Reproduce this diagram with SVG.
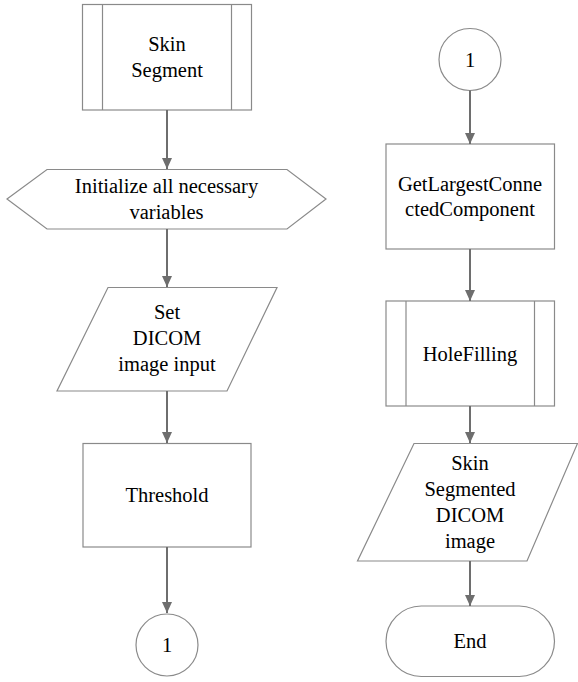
<svg xmlns="http://www.w3.org/2000/svg" width="578" height="682" viewBox="0 0 578 682">
  <style>
    .shape { fill: #ffffff; stroke: #8a8a8a; stroke-width: 1.2; }
    .edge { fill: none; stroke: #6e6e6e; stroke-width: 2; }
    text { font-family: 'Times New Roman', Times, Tinos, 'Liberation Serif', 'Nimbus Roman', 'Nimbus Roman No9 L', FreeSerif, 'Noto Serif', 'DejaVu Serif', serif; font-size: 20.5px; fill: #000000; text-anchor: middle; }
  </style>
  <defs>
    <marker id="arrow" markerUnits="userSpaceOnUse" markerWidth="12" markerHeight="12" viewBox="0 0 12 12" refX="11" refY="6" orient="auto">
      <path d="M0,1 L11,6 L0,11 Z" fill="#6e6e6e"/>
    </marker>
  </defs>

  <rect width="578" height="682" fill="#ffffff"/>

  <!-- left column -->
  <g id="skin-segment">
    <rect class="shape" x="82.5" y="4.5" width="169" height="105.5"/>
    <line class="shape" x1="102.5" y1="4.5" x2="102.5" y2="110"/>
    <line class="shape" x1="231.5" y1="4.5" x2="231.5" y2="110"/>
    <text x="167" y="51">Skin</text>
    <text x="167" y="77">Segment</text>
  </g>

  <g id="init-vars">
    <polygon class="shape" points="7,199 47,169.5 287,169.5 326,199 287,229 47,229"/>
    <text x="166.5" y="193">Initialize all necessary</text>
    <text x="166.5" y="219">variables</text>
  </g>

  <g id="set-input">
    <polygon class="shape" points="108,287.5 277,287.5 227,391 57,391"/>
    <text x="167" y="319">Set</text>
    <text x="167" y="345">DICOM</text>
    <text x="167" y="371">image input</text>
  </g>

  <g id="threshold">
    <rect class="shape" x="83" y="443.5" width="168" height="103.5"/>
    <text x="167" y="502">Threshold</text>
  </g>

  <g id="connector-out">
    <circle class="shape" cx="167" cy="645" r="31"/>
    <text x="167" y="652">1</text>
  </g>

  <!-- right column -->
  <g id="connector-in">
    <circle class="shape" cx="470" cy="59.5" r="31"/>
    <text x="470" y="67">1</text>
  </g>

  <g id="largest-component">
    <rect class="shape" x="386" y="144" width="168.5" height="105"/>
    <text x="470" y="190.5">GetLargestConne</text>
    <text x="470" y="216">ctedComponent</text>
  </g>

  <g id="hole-filling">
    <rect class="shape" x="386" y="301" width="168.5" height="105"/>
    <line class="shape" x1="406" y1="301" x2="406" y2="406"/>
    <line class="shape" x1="534.5" y1="301" x2="534.5" y2="406"/>
    <text x="470" y="360.5">HoleFilling</text>
  </g>

  <g id="segmented-output">
    <polygon class="shape" points="414,443.5 577.5,443.5 527,561 357.5,561"/>
    <text x="470" y="470">Skin</text>
    <text x="470" y="496">Segmented</text>
    <text x="470" y="522">DICOM</text>
    <text x="470" y="548">image</text>
  </g>

  <g id="end">
    <rect class="shape" x="386" y="606" width="168.5" height="70.5" rx="35.25" ry="35.25"/>
    <text x="470" y="648">End</text>
  </g>

  <!-- connectors -->
  <g id="edges">
    <line class="edge" x1="167" y1="110" x2="167" y2="169" marker-end="url(#arrow)"/>
    <line class="edge" x1="167" y1="229" x2="167" y2="287" marker-end="url(#arrow)"/>
    <line class="edge" x1="167" y1="391" x2="167" y2="443" marker-end="url(#arrow)"/>
    <line class="edge" x1="167" y1="547" x2="167" y2="613" marker-end="url(#arrow)"/>
    <line class="edge" x1="470" y1="90.5" x2="470" y2="144" marker-end="url(#arrow)"/>
    <line class="edge" x1="470" y1="249" x2="470" y2="301" marker-end="url(#arrow)"/>
    <line class="edge" x1="470" y1="406" x2="470" y2="443" marker-end="url(#arrow)"/>
    <line class="edge" x1="470" y1="561" x2="470" y2="606" marker-end="url(#arrow)"/>
  </g>
</svg>
